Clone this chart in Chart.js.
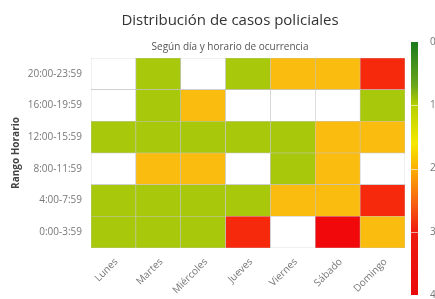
<!DOCTYPE html>
<html>
<head>
<meta charset="utf-8">
<script src="https://cdn.jsdelivr.net/npm/chart.js@4"></script>
<style>
  html, body { margin: 0; padding: 0; background: #fff; }
  #grafico { display: block; }
</style>
</head>
<body>
<canvas id="grafico" width="435" height="299"></canvas>
<script>
const titulo = "Distribución de casos policiales";
const subtitulo = "Según día y horario de ocurrencia";
const tituloEjeY = "Rango Horario";

const dias = ["Lunes", "Martes", "Miércoles", "Jueves", "Viernes", "Sábado", "Domingo"];
// de abajo hacia arriba
const rangos = ["0:00-3:59", "4:00-7:59", "8:00-11:59", "12:00-15:59", "16:00-19:59", "20:00-23:59"];

// null = sin registro (celda blanca)
const casos0000 = [1, 1, 1, 3, null, 4, 2];
const casos0400 = [1, 1, 1, 1, 2, 2, 3];
const casos0800 = [null, 2, 2, null, 1, 2, null];
const casos1200 = [1, 1, 1, 1, 1, 2, 2];
const casos1600 = [null, 1, 2, null, null, null, 1];
const casos2000 = [null, 1, null, 1, 2, 2, 3];

const casos = [casos0000, casos0400, casos0800, casos1200, casos1600, casos2000];

const ticksEscala = [0, 1, 2, 3, 4];

const coloresCelda = { 1: "#a8c80c", 2: "#fbbc10", 3: "#f6290d", 4: "#f0080a" };

function colorCelda(v) {
  if (v === null || v === undefined) return "#ffffff";
  return coloresCelda[v] || "#ffffff";
}

const fuente = "'Open Sans', 'Noto Sans', sans-serif";

// titulo, subtitulo y barra de colores
const escalaColores = {
  id: "escalaColores",
  afterDraw(chart) {
    const ctx = chart.ctx;
    ctx.save();
    ctx.textAlign = "center";
    ctx.textBaseline = "middle";
    ctx.fillStyle = "#333";
    ctx.font = "15px " + fuente;
    ctx.fillText(titulo, 230, 21);
    ctx.fillStyle = "#555";
    ctx.font = "10px " + fuente;
    ctx.fillText(subtitulo, 230, 47);

    const x = 411, w = 7, top = 42, bottom = 295;
    const max = ticksEscala[ticksEscala.length - 1];
    const grad = ctx.createLinearGradient(0, top, 0, bottom);
    grad.addColorStop(0, "#1a7a1c");
    grad.addColorStop(0.17, "#6aa51e");
    grad.addColorStop(0.25, "#b5d000");
    grad.addColorStop(0.4, "#f5e800");
    grad.addColorStop(0.5, "#fbb000");
    grad.addColorStop(0.62, "#f76a10");
    grad.addColorStop(0.75, "#ee1c10");
    grad.addColorStop(1, "#e8080a");
    ctx.fillStyle = grad;
    ctx.fillRect(x, top, w, bottom - top);

    ctx.fillStyle = "#777";
    ctx.font = "10px " + fuente;
    ctx.textAlign = "left";
    ticksEscala.forEach(t => {
      const y = top + (t / max) * (bottom - top);
      if (t > 0 && t < max) {
        ctx.strokeStyle = "rgba(255,255,255,0.6)";
        ctx.lineWidth = 1;
        ctx.beginPath();
        ctx.moveTo(x, Math.round(y) + 0.5);
        ctx.lineTo(x + w, Math.round(y) + 0.5);
        ctx.stroke();
      }
      ctx.fillText(String(t), 430, y);
    });
    ctx.restore();
  }
};

const datasets = rangos.map((rango, r) => ({
  label: rango,
  data: dias.map(() => [r, r + 1]),
  backgroundColor: casos[r].map(colorCelda),
  borderColor: "#c4c4c4",
  borderWidth: 0.6,
  borderSkipped: false,
  grouped: false,
  barPercentage: 1,
  categoryPercentage: 1
}));

new Chart(document.getElementById("grafico"), {
  type: "bar",
  data: { labels: dias, datasets },
  options: {
    responsive: false,
    animation: false,
    layout: { padding: { top: 58, right: 30, left: 0, bottom: 0 } },
    plugins: {
      legend: { display: false },
      tooltip: { enabled: false },
      title: { display: false }
    },
    scales: {
      x: {
        grid: { display: false, drawTicks: false },
        border: { display: false },
        ticks: {
          autoSkip: false,
          minRotation: 45,
          maxRotation: 45,
          padding: 8,
          labelOffset: 3,
          color: "#777",
          font: { family: fuente, size: 10 }
        },
        afterFit(scale) { scale.height = 51; }
      },
      y: {
        type: "linear",
        min: 0,
        max: rangos.length,
        grid: { display: false, drawTicks: false },
        border: { display: false },
        afterBuildTicks(scale) {
          scale.ticks = rangos.map((_, i) => ({ value: i + 0.5 }));
        },
        ticks: {
          padding: 9,
          color: "#777",
          font: { family: fuente, size: 10 },
          callback: v => rangos[Math.floor(v)]
        },
        title: {
          display: true,
          text: tituloEjeY,
          color: "#444",
          padding: { top: 10, bottom: 0 },
          font: { family: fuente, size: 10, weight: "bold" }
        },
        afterFit(scale) { scale.width = 91; }
      }
    }
  },
  plugins: [escalaColores]
});
</script>
</body>
</html>
